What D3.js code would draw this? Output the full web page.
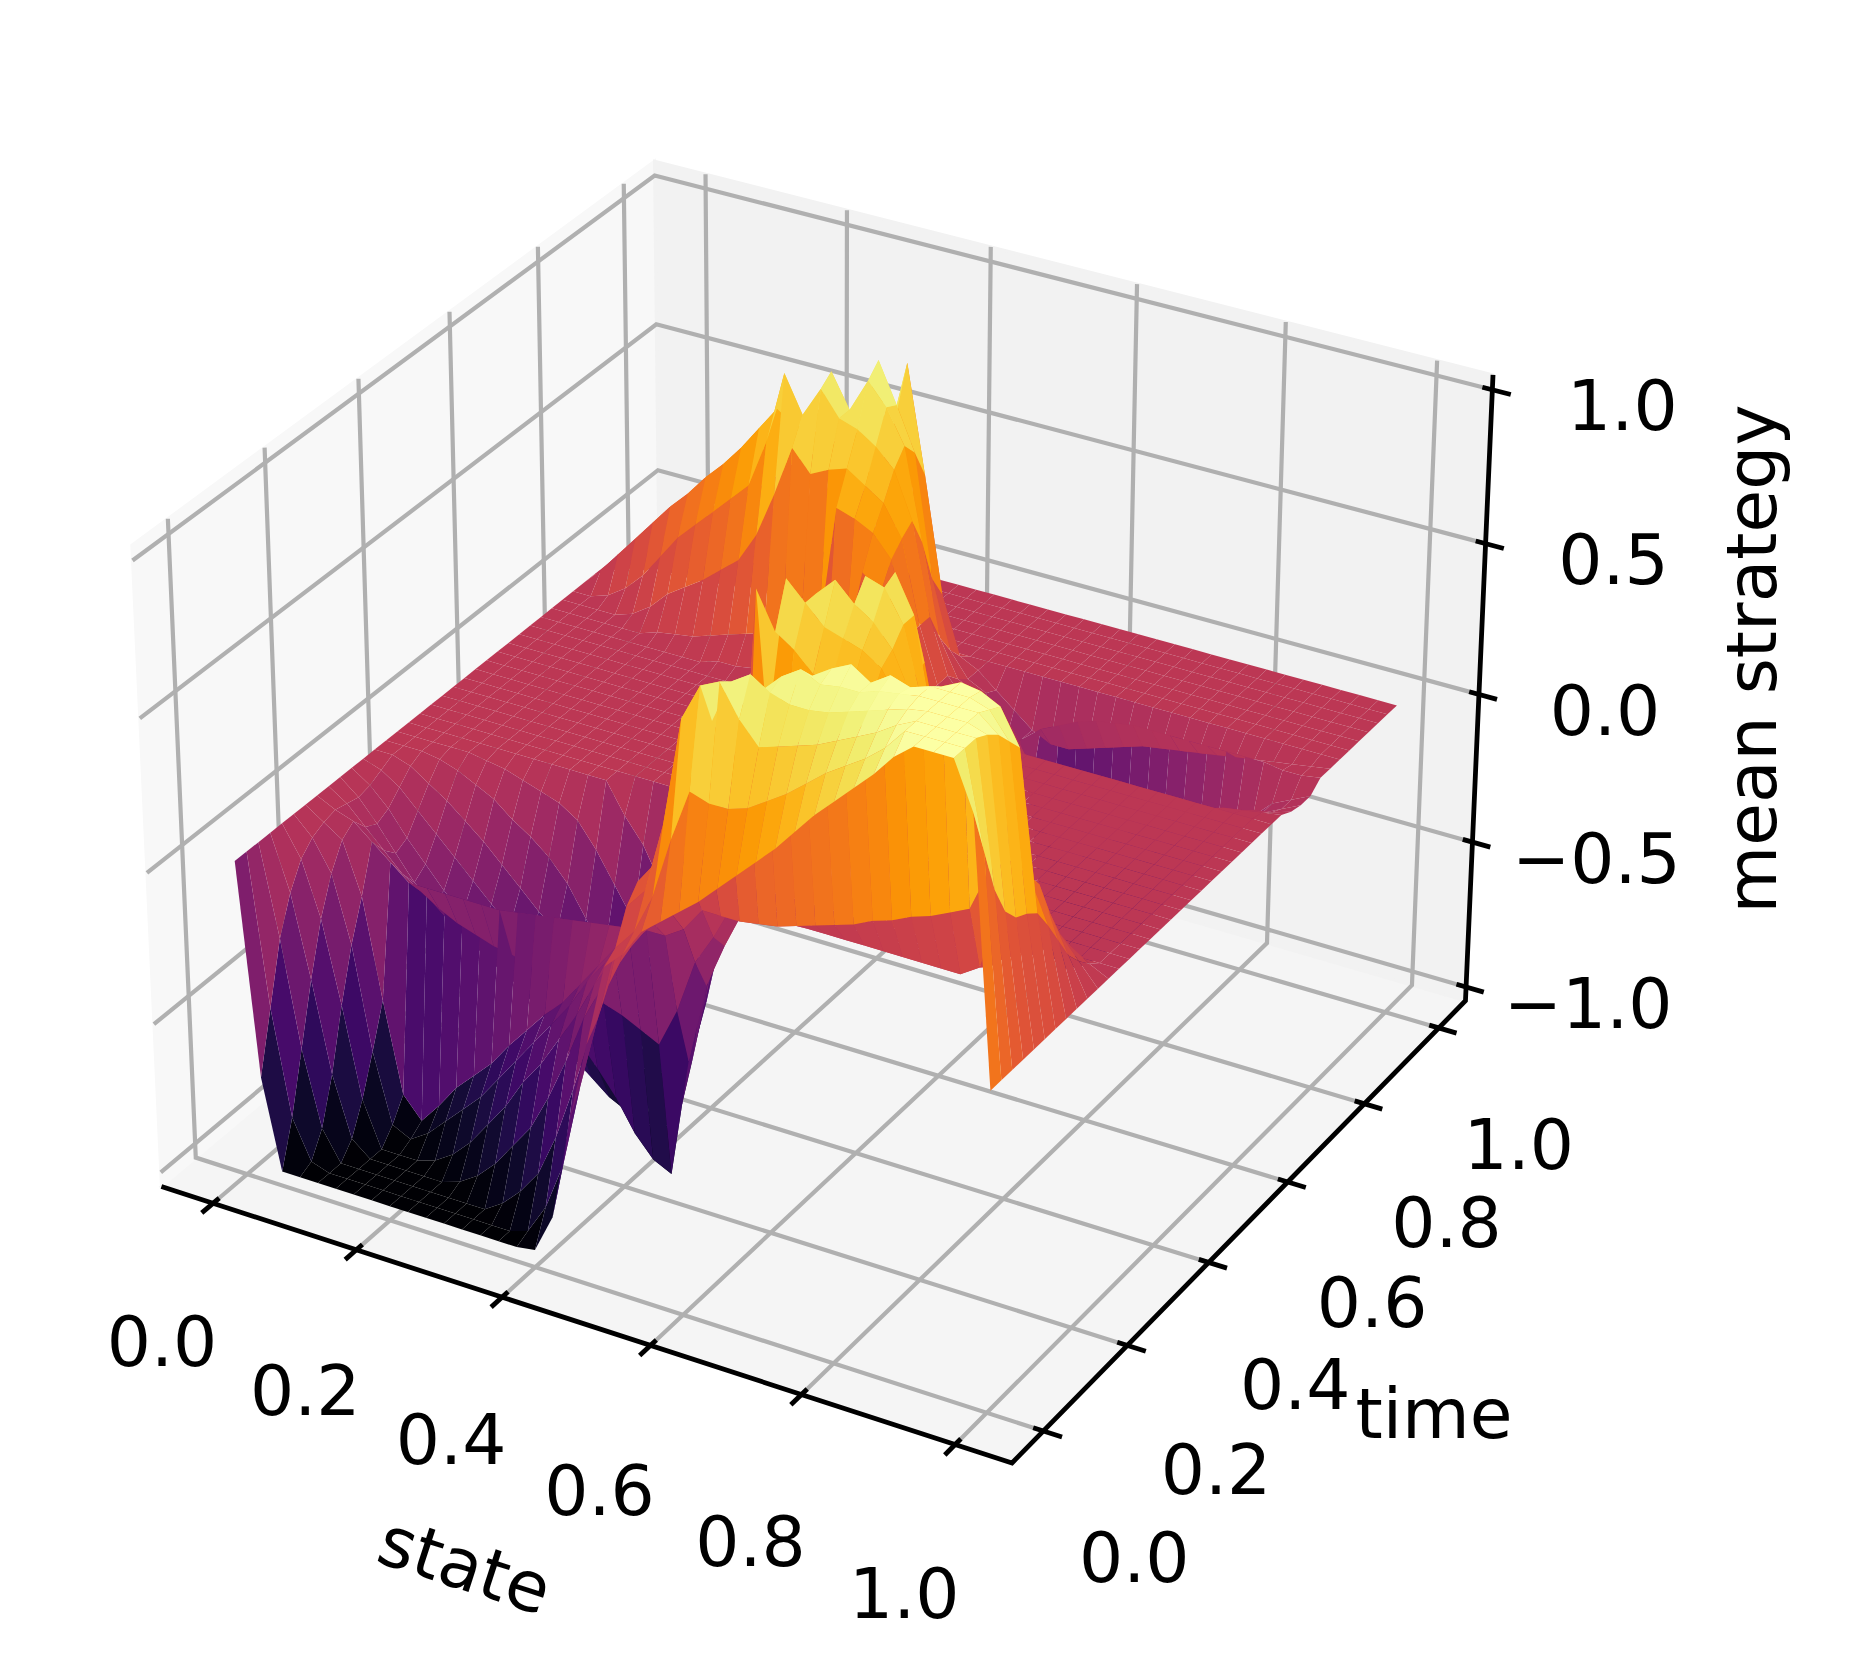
<!DOCTYPE html>
<html><head><meta charset="utf-8"><style>html,body{margin:0;background:#fff}svg{display:block}text{font-family:"DejaVu Sans";fill:#000}</style>
<script src="https://cdn.jsdelivr.net/npm/d3@7"></script></head><body><svg id="c" width="1851" height="1678"></svg>
<script>
const stateGrid=[0,.025,.05,.075,.1,.125,.15,.175,.2,.225,.25,.275,.3,.325,.35,.375,.4,.425,.45,.475,.5,.525,.55,.575,.6,.625,.65,.675,.7,.725,.75,.775,.8,.825,.85,.875,.9,.925,.95,.975,1];
const timeGrid=[0,.025,.05,.075,.1,.125,.15,.175,.2,.225,.25,.275,.3,.325,.35,.375,.4,.425,.45,.475,.5,.525,.55,.575,.6,.625,.65,.675,.7,.725,.75,.775,.8,.825,.85,.875,.9,.925,.95,.975,1];
const tickValues=[0,.2,.4,.6,.8,1];
const zTickValues=[-1,-.5,0,.5,1];
const flat=n=>Array(n).fill(0);
const F=-100;
// mean strategy in hundredths, one row per time, one column per state
const strategyRows=[
[0,-70,F,F,F,F,F,F,F,F,F,F,F,F,F,F,-99,-86,-52,-25,2,8,17,22,27,32,38,44,50,56,63,70,76,82,88,95,100,100,100,85,0],
[0,-50,-85,-98,F,F,F,F,F,F,F,F,F,F,F,-98,-88,-72,-44,-20,5,12,25,45,62,60,60,62,66,70,75,80,84,88,93,100,100,100,100,70,0],
[0,-30,-65,-90,F,F,F,F,F,F,F,F,F,-96,-90,-82,-68,-50,-30,-12,15,22,45,80,92,95,85,78,80,82,84,87,90,93,97,100,100,100,100,55,0],
[0,-18,-45,-75,-95,F,F,F,F,F,-98,-94,-88,-80,-72,-60,-46,-30,-18,-8,20,28,38,55,78,92,96,92,90,90,91,93,95,97,99,100,100,100,98,45,0],
[0,-10,-28,-55,-85,F,F,F,-98,-94,-88,-80,-72,-62,-54,-44,-34,-22,-12,-6,10,18,28,48,68,82,88,94,98,95,96,96,98,99,100,100,100,100,95,40,0],
[0,-6,-16,-38,-72,-95,-98,-94,-88,-82,-76,-68,-60,-52,-44,-36,-26,-18,-10,-5,5,15,25,42,62,72,80,88,93,97,100,96,100,98,100,100,100,98,90,38,0],
[0,-4,-8,-25,-58,-88,-95,-88,-80,-74,-68,-60,-53,-46,-40,-32,-24,-16,-10,-5,0,12,25,45,60,62,65,68,70,74,78,84,90,94,97,100,99,96,85,35,0],
[0,-3,-5,-10,-15,-20,-20,-20,-20,-20,-20,-19,-18,-17,-16,-15,-14,-13,-12,-12,-8,0,0,0,1,2,4,6,8,10,13,15,18,20,23,26,40,45,42,28,0],
[0,-4,-10,-16,-22,-26,-30,-33,-35,-37,-38,-40,-41,-42,-44,-45,-47,-50,-53,-40,-22,-12,...flat(13),4,25,38,36,20,0],
[0,-5,-12,-20,-28,-33,-38,-42,-46,-50,-53,-56,-60,-65,-72,-80,-90,-97,F,-60,-33,-18,-5,...flat(12),1,12,24,24,12,0],
[0,-4,-10,-18,-25,-32,-38,-44,-50,-56,-62,-68,-75,-80,-85,-88,-90,-90,-80,-30,-14,-6,...flat(14),4,12,14,7,0],
[0,-2,-6,-12,-18,-24,-30,-36,-42,-48,-54,-60,-65,-70,-74,-76,-76,-74,-68,-22,-8,8,30,45,55,58,60,58,55,50,30,10,...flat(5),5,7,3,0],
[0,0,-2,-6,-10,-15,-20,-26,-32,-38,-43,-48,-53,-58,-62,-64,-64,-62,-55,-18,-5,88,76,72,66,66,64,62,56,42,18,5,...flat(9)],
[0,0,0,-1,-3,-6,-9,-14,-18,-23,-30,-40,-50,-60,-68,-74,-78,-70,-42,-20,-6,40,90,84,78,76,74,70,60,38,14,3,...flat(9)],
[0,0,0,0,0,-1,-2,-4,-6,-8,-12,-20,-30,-40,-52,-62,-68,-60,-32,-15,-5,0,36,84,90,84,80,73,60,32,10,...flat(10)],
[...flat(12),-10,-18,-30,-40,-50,-46,-28,-12,-4,0,5,42,66,90,88,78,55,28,8,...flat(10)],
[...flat(23),5,28,55,90,78,46,18,5,...flat(10)],
[...flat(24),5,20,50,60,30,10,2,...flat(10)],
[...flat(25),5,15,18,10,3,...flat(11)],
flat(41),flat(41),flat(41),flat(41),flat(41),flat(41),
[...flat(18),5,3,...flat(21)],
[...flat(15),2,4,8,10,8,4,...flat(20)],
[...flat(10),2,2,3,8,5,8,10,15,45,40,20,5,...flat(19)],
[...flat(6),2,3,4,6,8,10,12,12,12,15,60,58,55,48,25,7,0,0,0,0,-5,-20,-35,-35,-30,-25,-20,-16,-12,-9,-6,-3,-2,-1,0],
[...flat(4),2,6,12,16,20,25,30,40,55,72,65,68,70,66,62,52,25,7,0,0,0,0,-10,-30,-45,-45,-42,-38,-32,-27,-22,-17,-12,-8,-5,-4,-2],
[0,0,2,6,12,20,28,34,40,46,52,68,92,80,90,82,80,76,70,55,25,7,0,0,0,-8,-40,-65,-78,-76,-70,-64,-56,-48,-40,-32,-24,-16,-9,-6,-3],
[0,6,13,20,27,34,40,47,53,60,68,76,72,74,93,82,93,86,75,45,15,3,0,-3,-12,-30,-80,-85,-82,-76,-70,-64,-56,-48,-40,-32,-24,-15,-9,-6,-3],
[0,3,8,13,18,23,28,33,38,43,48,54,60,62,70,72,97,84,70,30,8,0,-3,-20,-15,-10,-7,-4,-2,-1,0,0,0,0,0,0,0,0,-1,-1,0],
[0,1,2,4,6,8,10,12,14,16,18,20,22,30,40,55,65,95,60,22,3,0,-5,-10,-15,-18,-18,-16,-14,-12,-10,-9,-8,-7,-6,-5,-4,-3,-2,-1,0],
[...flat(6),1,2,3,3,4,5,6,8,12,20,25,20,8,...flat(22)],
[...flat(12),1,2,3,4,4,2,...flat(23)],
flat(41),flat(41),flat(41),flat(41),flat(41)
];
const xPane=[-.073,1.073],yPane=[-.073,1.073],zPane=[-1.048,1.048];
const xS=d3.scaleLinear().domain(xPane).range([-.5714,.5714]);
const yS=d3.scaleLinear().domain(yPane).range([-.5714,.5714]);
const zS=d3.scaleLinear().domain(zPane).range([-.4286,.4286]);
const color=d3.scaleSequential(d3.interpolateInferno).domain([-1,1]);
const S=8530,TX=825,TY=782;
function P(x,y,z){const a=xS(x),b=yS(y),c=zS(z);
 const u=.866*a+.5*b,v=-.25*a+.433*b+.866*c,n=.433*a-.75*b+.5*c,w=10-n;
 return [TX+S*u/w,TY-S*v/w,w];}
const svg=d3.select('#c');
const line=d3.line();
const path=pts=>line(pts.map(p=>[p[0],p[1]]));
const [x0,x1]=xPane,[y0,y1]=yPane,[z0,z1]=zPane;
const panes=[
 {c:[[x0,y0,z0],[x0,y1,z0],[x1,y1,z0],[x1,y0,z0]],f:'#f5f5f5'},
 {c:[[x0,y0,z0],[x0,y1,z0],[x0,y1,z1],[x0,y0,z1]],f:'#f8f8f8'},
 {c:[[x0,y1,z0],[x1,y1,z0],[x1,y1,z1],[x0,y1,z1]],f:'#f2f2f2'}];
svg.append('g').selectAll('path').data(panes).join('path')
 .attr('d',d=>path(d.c.map(p=>P(...p)))+'Z').attr('fill',d=>d.f).attr('stroke',d=>d.f).attr('stroke-width',3);
const gl=svg.append('g').attr('fill','none').attr('stroke','#b0b0b0').attr('stroke-width',4.2);
tickValues.forEach(t=>{
 gl.append('path').attr('d',path([P(t,y0,z0),P(t,y1,z0),P(t,y1,z1)]));
 gl.append('path').attr('d',path([P(x1,t,z0),P(x0,t,z0),P(x0,t,z1)]));
});
zTickValues.forEach(t=>gl.append('path').attr('d',path([P(x0,y0,t),P(x0,y1,t),P(x1,y1,t)])));
const ax=svg.append('g').attr('fill','none').attr('stroke','#000').attr('stroke-width',4.8);
ax.append('path').attr('d',path([P(x0,y0,z0),P(x1,y0,z0),P(x1,y1,z0),P(x1,y1,z1)]));
const out=.024,inn=.013;
tickValues.forEach(t=>{
 ax.append('path').attr('d',path([P(t,y0-out,z0),P(t,y0+inn,z0)]));
 ax.append('path').attr('d',path([P(x1+out,t,z0),P(x1-inn,t,z0)]));
});
zTickValues.forEach(t=>ax.append('path').attr('d',path([P(x1+out,y1,t),P(x1-inn,y1,t)])));
// surface
const cells=[];
for(let i=0;i<timeGrid.length-1;i++)for(let j=0;j<stateGrid.length-1;j++){
 const cs=[[j,i],[j+1,i],[j+1,i+1],[j,i+1]].map(([a,b])=>P(stateGrid[a],timeGrid[b],strategyRows[b][a]/100));
 const m=(strategyRows[i][j]+strategyRows[i][j+1]+strategyRows[i+1][j]+strategyRows[i+1][j+1])/400;
 cells.push({cs,m,d:d3.mean(cs,p=>p[2])});
}
cells.sort((a,b)=>b.d-a.d);
svg.append('g').selectAll('path').data(cells).join('path')
 .attr('d',d=>path(d.cs)+'Z').attr('fill',d=>color(d.m));
// text
const fmt=d3.format('.1f');
const FS=69.5;
const T=svg.append('g').attr('font-size',FS).attr('text-anchor','middle').attr('dominant-baseline','central');
tickValues.forEach(t=>{
 const a=P(t,y0,z0),b=P(x1,t,z0);
 T.append('text').attr('x',a[0]-51).attr('y',a[1]+138+11*t).text(fmt(t));
 T.append('text').attr('x',b[0]+91-11*t).attr('y',b[1]+126-9*t).text(fmt(t));
});
zTickValues.forEach(t=>{const a=P(x1,y1,t);
 T.append('text').attr('x',a[0]+126+4*t).attr('y',a[1]+16).text(fmt(t).replace('-','\u2212'));});
T.append('text').attr('transform','translate(465,1565) rotate(18)').text('state');
T.append('text').attr('transform','translate(1434,1413)').text('time');
T.append('text').attr('transform','translate(1751,659) rotate(-90)').text('mean strategy');
</script></body></html>
